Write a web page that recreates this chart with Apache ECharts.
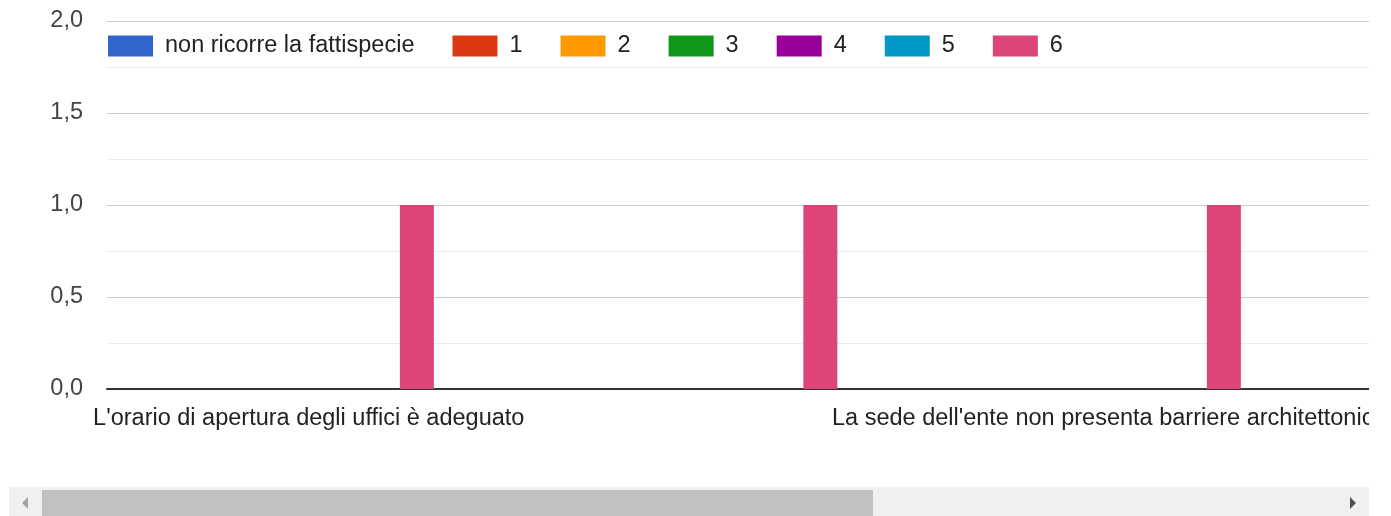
<!DOCTYPE html>
<html>
<head>
<meta charset="utf-8">
<script src="https://cdn.jsdelivr.net/npm/echarts@6/dist/echarts.min.js"></script>
<style>
  html, body { margin: 0; padding: 0; background: #fff; }
  #chart { width: 1391px; height: 516px; }
</style>
</head>
<body>
<div id="chart"></div>
<script>
// Categories (only the visible labels are known; hidden ones left empty)
const categories = [
  "L'orario di apertura degli uffici è adeguato",
  '',
  "La sede dell'ente non presenta barriere architettoniche",
  '',
  ''
]
const seriesNames = ['non ricorre la fattispecie', '1', '2', '3', '4', '5', '6']
const seriesColors = ['#3366cc', '#dc3912', '#ff9900', '#109618', '#990099', '#0099c6', '#dd4477']

// Values per series (one value per category, '-' = not visible in the picture)
const nonRicorre = [0, 0, 0, '-', '-']
const voto1 = [0, 0, 0, '-', '-']
const voto2 = [0, 0, 0, '-', '-']
const voto3 = [0, 0, 0, '-', '-']
const voto4 = [0, 0, 0, '-', '-']
const voto5 = [0, 0, 0, '-', '-']
const voto6 = [1, 1, 1, '-', '-']
const seriesValues = [nonRicorre, voto1, voto2, voto3, voto4, voto5, voto6]

const yTicks = { min: 0, max: 2, interval: 0.5 }

const FONT = 'Arial, "Liberation Sans", sans-serif'
const FS = 23.5

const chart = echarts.init(document.getElementById('chart'))

const option = {
  animation: false,
  textStyle: { fontFamily: FONT },
  legend: {
    left: 103,
    top: 29,
    icon: 'rect',
    itemWidth: 45,
    itemHeight: 21,
    itemGap: 38,
    textStyle: { fontSize: FS, color: '#222', fontFamily: FONT, padding: [0, 0, 0, 7] },
    data: seriesNames
  },
  grid: {
    left: 107,
    top: 21,
    height: 368,
    width: 2017.5,
    outerBoundsMode: 'none',
    containLabel: false
  },
  xAxis: {
    type: 'category',
    data: categories,
    axisLine: { show: true, lineStyle: { color: '#333', width: 2 } },
    axisTick: { show: false },
    axisLabel: {
      interval: 1,
      margin: 18,
      fontSize: FS,
      color: '#222',
      fontFamily: FONT
    }
  },
  yAxis: {
    type: 'value',
    min: yTicks.min,
    max: yTicks.max,
    interval: yTicks.interval,
    axisLine: { show: false },
    axisTick: { show: false },
    axisLabel: {
      margin: 24,
      fontSize: FS,
      color: '#444',
      fontFamily: FONT,
      verticalAlign: 'middle',
      padding: [5, 0, 0, 0],
      formatter: v => v.toFixed(1).replace('.', ',')
    },
    splitLine: { lineStyle: { color: '#cccccc', width: 1 } },
    minorTick: { show: false, splitNumber: 2 },
    minorSplitLine: { show: true, lineStyle: { color: '#ebebeb', width: 1 } }
  },
  series: seriesNames.map((name, i) => ({
    name: name,
    type: 'bar',
    data: seriesValues[i],
    barWidth: 34,
    barGap: '6%',
    itemStyle: { color: seriesColors[i] }
  })),
  graphic: [
    // mask for the part of the scrolled chart beyond the viewport
    { type: 'rect', z: 100, shape: { x: 1369, y: 0, width: 30, height: 487 }, style: { fill: '#fff' } },
    // scrollbar
    { type: 'rect', z: 100, shape: { x: 9, y: 487, width: 1360, height: 29 }, style: { fill: '#f0f0f0' } },
    { type: 'rect', z: 101, shape: { x: 42, y: 490, width: 831, height: 26 }, style: { fill: '#c1c1c1' } },
    { type: 'polygon', z: 101, shape: { points: [[28, 497], [28, 509], [22, 503]] }, style: { fill: '#a3a3a3' } },
    { type: 'polygon', z: 101, shape: { points: [[1350, 497], [1350, 509], [1356, 503]] }, style: { fill: '#505050' } }
  ]
}

chart.setOption(option)
</script>
</body>
</html>
